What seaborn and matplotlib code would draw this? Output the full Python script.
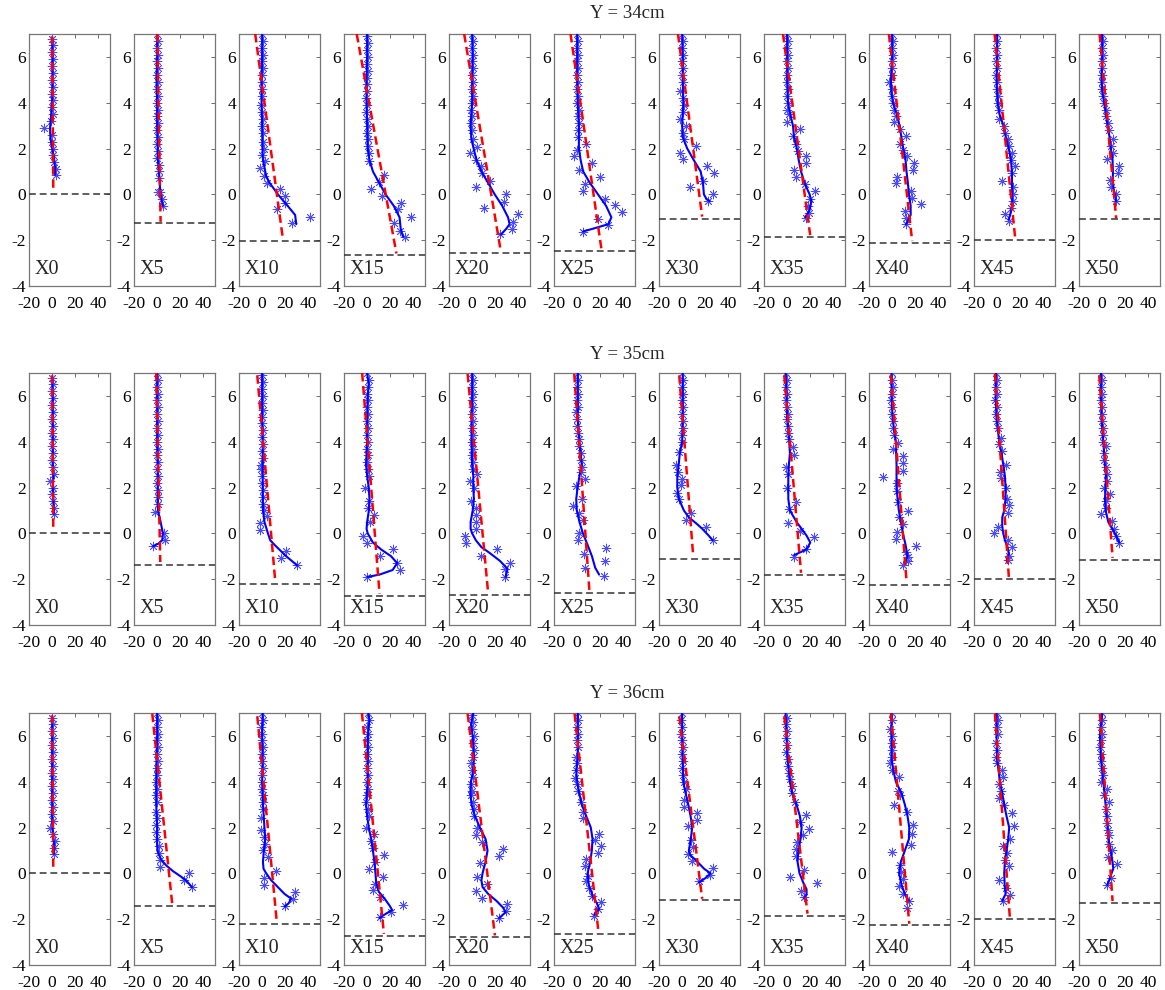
import matplotlib
matplotlib.use("Agg")
import matplotlib.pyplot as plt
import seaborn as sns

sns.set_style("white")
plt.rcParams["font.family"] = ["Liberation Serif", "DejaVu Serif"]

stations = ["X0", "X5", "X10", "X15", "X20", "X25", "X30", "X35", "X40", "X45", "X50"]
row_titles = ["Y = 34cm", "Y = 35cm", "Y = 36cm"]
x_ticks = [-20, 0, 20, 40]
y_ticks = [-4, -2, 0, 2, 4, 6]

# ---------------- Y = 34cm ----------------
bed_34 = [0.03, -1.27, -2.04, -2.66, -2.58, -2.46, -1.06, -1.85, -2.14, -1.99, -1.08]
# red fitted line: (x at top y, y top, x at bottom, y bottom)
fit_34 = [(0, 6.9, 1, 0.1), (0, 7, 3, -1.2), (-6, 7, 18, -1.97), (-9, 7, 25.3, -2.58),
          (-6.9, 7, 24.7, -2.46), (-5.7, 7, 21, -2.4), (-3.6, 7, 17.3, -0.97),
          (-3.6, 7, 19.9, -1.78), (-2.8, 7, 17.3, -2.04), (-2.2, 7, 15.6, -1.92),
          (-2.2, 7, 12.1, -1.05)]
curve_34 = {
    "X0": [(0, 6.8), (0.3, 6), (0.3, 5), (0, 4.2), (-0.8, 3.5), (-1.8, 2.9), (-1.5, 2.5), (0, 2.0), (1.5, 1.6), (2.5, 1.2), (2.5, 0.85)],
    "X5": [(0, 7), (0, 6), (-0.5, 5), (0, 4), (0, 3), (0.5, 2), (0.5, 1.6), (1.5, 1.0), (2.5, 0.3), (3, 0), (4, -0.3), (5, -0.5)],
    "X10": [(0, 7), (0, 6), (-0.5, 5), (-0.5, 4), (0, 3), (0.3, 2), (0.7, 1.5), (3.5, 0.8), (6.5, 0.5), (13.6, 0), (22, -0.5), (28.5, -0.9), (29.5, -1.3)],
    "X15": [(0, 7), (0, 6), (-0.5, 5), (-0.5, 4), (0, 3), (0.5, 2), (2, 1.5), (5, 1), (10.4, 0.5), (15.9, 0), (23, -0.5), (28, -1), (29, -1.5), (31, -1.85)],
    "X20": [(0, 7), (0.5, 6), (0, 5), (0, 4), (-1.4, 3), (-0.6, 2.4), (3.7, 1.5), (8, 1), (13.8, 0.5), (19.5, 0), (26, -0.5), (31, -1), (32.4, -1.3), (29.5, -1.5), (25, -1.75)],
    "X25": [(0, 7), (0, 6), (0, 5), (0.5, 4), (1.5, 3), (1.5, 2.5), (1.5, 2), (3, 1.5), (5.2, 1), (11, 0.5), (18, 0), (25, -0.5), (29.6, -1), (27, -1.3), (17, -1.45), (5.2, -1.62)],
    "X30": [(0, 7), (0.5, 6), (0.5, 5), (1, 4), (0, 3), (0.5, 2.5), (4.4, 2), (10, 1.5), (16, 1), (18, 0.5), (18.8, 0), (21, -0.2), (24, -0.3)],
    "X35": [(0, 7), (0, 6), (0, 5), (0.7, 4), (2.7, 3.5), (5, 3), (6, 2.5), (8.4, 2), (10, 1.5), (12, 1), (15, 0.5), (19.4, 0), (21, -0.3), (19.3, -0.7), (15.6, -1.0)],
    "X40": [(0, 7), (0, 6), (-1, 5), (-0.8, 4.5), (0.7, 4), (4, 3.5), (6.4, 3), (8, 2.5), (9.6, 2), (11.6, 1.5), (12.4, 1), (13.6, 0.5), (14.5, 0), (16, -0.5), (16, -0.9), (14.2, -1.1), (12, -1.3)],
    "X45": [(0, 7), (0, 6), (-0.5, 5), (0.4, 4), (2, 3.5), (5.5, 3), (7.5, 2.5), (10, 2), (12, 1.5), (12.7, 1), (13, 0), (13, -0.5), (11.2, -0.9), (10, -1.1)],
    "X50": [(0, 7), (0, 6), (-0.5, 5), (0, 4.5), (1.8, 4), (4.7, 3), (6.4, 2.5), (7.5, 2), (9, 1.5), (9.3, 1), (9.3, 0.5), (10, 0.2), (11.2, 0), (12, -0.3)],
}
stars_34 = {
    "X0": [(0, 6.8), (0.5, 6.5), (0, 6.2), (1, 5.9), (0, 5.6), (1, 5.3), (0, 5.0), (1, 4.7), (0, 4.4), (0.5, 4.1), (-0.5, 3.8), (0.5, 3.5), (-1, 3.2), (-7, 2.9), (0, 2.6), (-0.5, 2.3), (1, 2.0), (1, 1.7), (2, 1.4), (3.5, 1.1), (3, 0.85)],
    "X5": [(0, 7), (1, 6.7), (0, 6.4), (1, 6.1), (0, 5.8), (1, 5.5), (0, 5.2), (0.5, 4.9), (-0.5, 4.6), (0.5, 4.3), (0, 4.0), (1, 3.7), (0, 3.4), (1, 3.1), (0, 2.8), (0.5, 2.5), (0, 2.2), (1, 1.9), (-0.5, 1.6), (2, 1.3), (1.5, 1.0), (2, 0.7), (0.4, 0.1), (2.5, 0.1), (4, -0.2), (5, -0.5)],
    "X10": [(0, 7), (1, 6.7), (0, 6.4), (1, 6.1), (0, 5.8), (1, 5.5), (0, 5.2), (-0.5, 4.9), (0, 4.6), (-0.5, 4.3), (-1, 3.9), (0, 3.6), (0.5, 3.3), (-0.5, 3.0), (0.5, 2.7), (1, 2.3), (2, 2.0), (0, 1.7), (2.7, 1.45), (-1.6, 1.15), (1.5, 0.8), (4.4, 0.5), (15, 0.23), (19.4, -0.06), (20, -0.36), (12.7, -0.66), (26, -1.27), (41.4, -0.97)],
    "X15": [(0, 6.9), (1, 6.6), (0, 6.3), (1, 6.0), (0, 5.7), (1, 5.4), (0, 5.1), (-0.5, 4.8), (0, 4.5), (-1, 4.2), (0, 3.9), (-1, 3.6), (0, 3.3), (0.5, 3.0), (-0.5, 2.7), (0.5, 2.4), (1, 2.1), (1.5, 1.8), (2, 1.45), (3, 0.25), (14.7, 0.84), (13, -0.05), (10.4, 0.52), (29.6, -0.36), (27, -0.66), (38.3, -1.0), (23, -1.27), (28, -1.58), (32.8, -1.88)],
    "X20": [(0, 7), (1, 6.7), (0, 6.4), (1, 6.1), (0, 5.8), (1, 5.5), (0, 5.2), (1, 4.9), (0, 4.6), (1, 4.3), (0, 4.0), (-1, 3.7), (0, 3.4), (-1, 3.1), (-0.5, 2.8), (1, 2.4), (4.6, 2.08), (-2, 1.8), (3, 1.5), (7.5, 1.25), (8.9, 0.92), (15.2, 0.6), (3.7, 0.3), (10, -0.6), (29.5, 0), (27.3, -0.32), (39.6, -0.87), (35, -1.2), (34.7, -1.5), (24.4, -1.75)],
    "X25": [(0, 7), (0.5, 6.7), (0, 6.4), (1, 6.1), (0, 5.8), (1, 5.5), (0, 5.2), (1, 4.9), (0, 4.6), (1, 4.3), (0, 4.0), (1.5, 3.7), (0.5, 3.4), (2, 3.1), (0.5, 2.8), (1, 2.5), (7.5, 2.22), (0, 1.95), (-2.5, 1.67), (13, 1.35), (2, 1.05), (19.9, 0.77), (7, 0.45), (4.7, 0.13), (24, -0.2), (32.8, -0.45), (38.5, -0.77), (18, -1.08), (26.8, -1.34), (5, -1.64)],
    "X30": [(0, 7), (1, 6.7), (0, 6.4), (1, 6.1), (0, 5.8), (0.5, 5.5), (0, 5.2), (1, 4.9), (-2, 4.5), (1, 4.2), (2, 3.9), (1, 3.6), (-2.2, 3.3), (3, 3.0), (1, 2.7), (1.5, 2.4), (12, 2.1), (-2.2, 1.82), (0.7, 1.53), (21.6, 1.25), (27.3, 0.92), (17.9, 0.6), (6.7, 0.3), (26.8, 0), (22.5, -0.3)],
    "X35": [(0, 7), (1, 6.7), (0, 6.4), (1, 6.1), (-0.5, 5.8), (0.5, 5.5), (-0.5, 5.2), (0, 4.9), (0.5, 4.6), (0, 4.3), (1, 4.0), (0, 3.7), (2, 3.5), (0, 3.15), (11, 2.86), (5, 2.55), (7.5, 2.2), (9, 1.9), (16.2, 1.66), (16.2, 1.35), (6.2, 1.05), (7.5, 0.76), (15, 0.45), (24, 0.16), (20, -0.2), (17.6, -0.5), (19, -0.8), (16.2, -1.05)],
    "X40": [(0, 7), (1, 6.7), (0, 6.4), (1, 6.1), (0, 5.8), (0, 5.5), (-0.5, 5.2), (-2.5, 4.9), (0, 4.6), (-0.5, 4.3), (1, 4.0), (2, 3.7), (3, 3.4), (2, 3.15), (7, 2.85), (11.6, 2.55), (7, 2.2), (9, 1.95), (13, 1.67), (18.7, 1.35), (18, 1.06), (3.8, 0.77), (3, 0.48), (16, 0.16), (17, -0.15), (25.3, -0.42), (10.7, -0.74), (12.4, -1.03), (11.6, -1.3)],
    "X45": [(0, 7), (0, 6.7), (-1, 6.4), (0, 6.1), (-1, 5.8), (0, 5.5), (-1, 5.2), (0, 4.9), (0, 4.6), (1, 4.3), (1, 4.0), (2, 3.7), (2, 3.3), (6, 3.0), (7, 2.7), (9, 2.4), (10, 2.1), (13, 1.8), (12, 1.5), (15.4, 1.25), (13, 0.95), (3.8, 0.6), (14, 0.3), (14, 0), (14, -0.3), (12, -0.6), (6.7, -0.87), (10.4, -1.15)],
    "X50": [(0, 7), (1, 6.7), (0, 6.4), (1, 6.1), (0, 5.8), (-0.5, 5.5), (0, 5.2), (-0.5, 4.9), (0, 4.6), (1, 4.3), (1.5, 4.0), (3, 3.7), (3, 3.4), (5, 3.1), (6, 2.8), (9, 2.42), (8, 2.1), (9, 1.8), (4.1, 1.56), (14.2, 1.25), (13.5, 0.93), (7, 0.61), (8, 0.3), (12, 0), (12, -0.3)],
}

# ---------------- Y = 35cm ----------------
bed_35 = [0.02, -1.36, -2.2, -2.73, -2.71, -2.62, -1.1, -1.83, -2.24, -1.98, -1.17]
fit_35 = [(0, 6.9, 1, 0.1), (-0.8, 7, 2.7, -1.25), (-4.2, 6.9, 11.3, -2.08), (-4.3, 7, 10.7, -2.64),
          (-3.9, 6.96, 13.9, -2.64), (-2.5, 6.96, 10.7, -2.59), (-2.5, 6.9, 9.6, -1.02),
          (-2.5, 6.9, 12, -1.72), (-1, 6.9, 12.5, -2.15), (-1.9, 6.96, 10.1, -1.9),
          (-2.5, 6.9, 9, -1.07)]
curve_35 = {
    "X0": [(0, 6.8), (0.5, 6), (0.5, 5), (0.5, 4), (0.5, 3), (1, 2.5), (0.5, 2), (1, 1.5), (1.5, 0.85)],
    "X5": [(0, 7), (0, 6), (0, 5), (0, 4), (0.5, 3), (0.5, 2), (0.5, 1.3), (0.7, 1), (3, 0.5), (5, 0), (4.4, -0.3), (1, -0.45), (-3.4, -0.56)],
    "X10": [(0, 7), (0, 6), (0, 5), (0.5, 4), (0.5, 3), (0.5, 2), (0.7, 1), (2, 0.5), (5, 0), (7, -0.3), (10.7, -0.5), (20.8, -1), (30.3, -1.4)],
    "X15": [(0, 7), (1.4, 6.5), (0.5, 6), (0, 5), (0, 4), (-0.9, 3), (0, 2.5), (1.4, 2), (2, 1.5), (1.5, 1), (0, 0.5), (-0.5, 0.2), (0.5, 0), (5, -0.4), (12, -0.7), (20.7, -1), (26, -1.3), (22, -1.6), (10.7, -1.8), (0.5, -1.9)],
    "X20": [(0, 7), (0, 6), (-0.5, 5), (-0.5, 4), (0, 3), (1, 2.5), (1, 2), (1.5, 1.5), (0.5, 1), (-1.3, 0.5), (-1.3, 0.2), (0, 0), (3.2, -0.3), (8, -0.6), (15, -0.85), (24, -1.2), (30.6, -1.55), (29, -1.9)],
    "X25": [(0.5, 7), (0.5, 6), (0.5, 5), (2, 4), (4, 3), (2, 2.5), (0.4, 2), (-0.8, 1.5), (-0.3, 1), (2, 0.5), (5, 0), (9, -0.5), (12.8, -1), (15.6, -1.5), (19, -1.8)],
    "X30": [(0.5, 7), (0.5, 6), (0.5, 5), (0, 4), (-2, 3.5), (-3, 3), (-4.2, 2.5), (-4.2, 2), (-2.8, 1.5), (1.5, 1), (5.8, 0.7), (13, 0.4), (17.4, 0.2), (23, -0.1), (26.3, -0.3)],
    "X35": [(-1.3, 7), (-0.5, 6), (0, 5), (1, 4.5), (1.8, 4), (2.4, 3.5), (1.5, 3), (1, 2.5), (1, 2), (1, 1.5), (2.4, 1), (8.1, 0.5), (12.5, 0.2), (16.8, -0.1), (20, -0.4), (16.8, -0.7), (6, -0.95)],
    "X40": [(-0.5, 7), (-0.5, 6), (0.4, 5), (1.8, 4.5), (3.2, 4), (3.8, 3), (3.8, 2), (4.7, 1.5), (5.8, 1), (7.6, 0.5), (9.3, 0), (11.6, -0.5), (13.3, -1), (11, -1.3)],
    "X45": [(-1, 7), (-1.3, 6), (-0.5, 5), (1.8, 4), (3.8, 3.5), (5.3, 3), (6.7, 2.5), (7.3, 2), (7.3, 1.5), (6.1, 1), (4.4, 0.7), (4.4, 0.3), (5.3, 0), (6.7, -0.3), (9, -0.6), (10.1, -0.9), (8.1, -1.2)],
    "X50": [(-1, 7), (-1, 6), (-0.5, 5), (1, 4), (2.4, 3), (3.3, 2.5), (3, 2), (2.4, 1.5), (3, 1), (5.3, 0.5), (8.7, 0.2), (11, 0), (14.8, -0.4)],
}
stars_35 = {
    "X0": [(0, 6.8), (1, 6.5), (0, 6.2), (1, 5.9), (0, 5.6), (1, 5.3), (0, 5.0), (1, 4.7), (0, 4.4), (1, 4.1), (0, 3.8), (1, 3.5), (0, 3.2), (1, 2.9), (2, 2.58), (-2.2, 2.27), (1, 2.0), (0, 1.7), (1, 1.4), (2, 1.1), (2, 0.85)],
    "X5": [(0, 7), (1, 6.7), (0, 6.4), (1, 6.1), (0, 5.8), (1, 5.5), (0, 5.2), (0.5, 4.9), (0, 4.6), (0.5, 4.3), (0, 4.0), (1, 3.7), (0, 3.4), (1, 3.1), (0, 2.8), (1, 2.5), (0, 2.2), (1, 1.9), (0.5, 1.6), (1, 1.3), (-1.6, 0.95), (6, 0), (7, -0.27), (-3.4, -0.56)],
    "X10": [(0, 6.9), (0.5, 6.6), (0, 6.3), (0.5, 6.0), (0, 5.7), (0.5, 5.4), (-0.5, 5.1), (0, 4.8), (0.5, 4.5), (0, 4.2), (0.5, 3.9), (0, 3.6), (0.5, 3.3), (-1, 3.0), (-1, 2.8), (0, 2.5), (-0.5, 2.2), (1, 1.9), (0.5, 1.6), (1, 1.3), (1.5, 1.0), (3.8, 0.75), (-1.9, 0.44), (-1.9, 0.14), (20.2, -0.76), (16.4, -1.06), (30.3, -1.4)],
    "X15": [(0, 7), (1.5, 6.7), (1, 6.4), (0, 6.1), (1, 5.8), (0, 5.5), (1, 5.2), (0, 4.9), (1, 4.6), (0, 4.3), (0.5, 4.0), (0, 3.7), (0.5, 3.4), (-0.5, 3.1), (0.5, 2.8), (2, 2.5), (-2, 1.98), (2, 1.4), (1, 1.1), (5.8, 0.8), (2.9, 0.5), (-3.7, -0.12), (-0.3, -0.42), (22, -0.7), (10.7, -1.0), (26, -1.3), (28, -1.6), (0, -1.9)],
    "X20": [(0, 7), (1, 6.7), (0, 6.4), (1, 6.1), (0, 5.8), (1, 5.5), (0, 5.2), (0.5, 4.9), (0, 4.6), (1, 4.3), (0, 4.0), (0.5, 3.7), (0, 3.4), (0.5, 3.1), (1, 2.8), (3.8, 2.57), (-1.9, 2.28), (2, 2.0), (-1.3, 1.4), (3, 1.1), (3, 0.8), (3.5, 0.5), (3, 0.2), (-5.9, -0.1), (-5, -0.4), (21.7, -0.7), (7.3, -1.0), (32.6, -1.31), (28.2, -1.57), (28.8, -1.9)],
    "X25": [(0.5, 7), (1, 6.7), (0, 6.4), (1, 6.1), (0, 5.8), (1, 5.5), (-1, 5.3), (0, 5.0), (-0.5, 4.7), (1, 4.4), (1.5, 4.1), (2, 3.8), (3, 3.5), (3.5, 3.2), (4, 2.9), (3, 2.7), (7, 2.36), (-1, 2.06), (4, 1.5), (-3.7, 1.19), (2, 0.9), (5, 0.6), (2, 0), (1, -0.3), (5.5, -0.92), (6.4, -1.52), (24.8, -0.63), (24.3, -1.2), (22.8, -1.85)],
    "X30": [(0, 7), (1, 6.7), (0, 6.4), (1, 6.1), (0, 5.8), (1, 5.5), (0, 5.2), (1, 4.9), (0.5, 4.6), (-0.5, 4.3), (0, 4.0), (-2.5, 3.56), (-5.7, 3.0), (-4, 2.7), (-0.5, 2.38), (-1, 2.1), (-4.2, 1.78), (-3, 1.5), (7.8, 0.9), (3.5, 0.58), (20.8, 0.29), (26.9, -0.3)],
    "X35": [(-1, 7), (0, 6.7), (-1, 6.4), (0, 6.1), (-1, 5.8), (0, 5.5), (0.5, 5.2), (-0.5, 5.0), (1, 4.7), (1, 4.4), (2, 4.1), (4.7, 3.78), (5.8, 3.44), (-1, 2.9), (1, 2.6), (0, 2.0), (8, 1.36), (1.5, 1.07), (0.4, 0.47), (11, 0.1), (22.9, -0.15), (16, -0.7), (5.8, -1.05)],
    "X40": [(0, 7), (-0.5, 6.7), (0.5, 6.4), (-0.5, 6.1), (-1, 5.8), (0, 5.5), (-0.5, 5.2), (1, 4.9), (0.5, 4.6), (2, 4.3), (5, 3.94), (0.4, 3.68), (9.6, 3.37), (9.6, 3.07), (9.3, 2.74), (-7.7, 2.45), (4, 2.2), (4, 1.85), (5, 1.35), (13.9, 0.97), (6, 0.7), (9, 0.4), (4.4, 0.07), (3.2, -0.24), (20.2, -0.54), (12, -0.8), (14, -1.05), (14, -1.2), (9.3, -1.4)],
    "X45": [(-1, 7), (0, 6.7), (-1, 6.4), (-0.5, 6.1), (-1.5, 5.8), (-0.5, 5.5), (-1, 5.2), (0, 4.9), (0.5, 4.6), (3.5, 4.16), (1.5, 3.9), (4, 3.6), (7.3, 3.0), (2.4, 2.68), (3, 2.4), (8, 2.0), (8.1, 1.51), (10.1, 1.23), (9, 0.9), (1, 0.28), (-2.5, 0), (9.6, -0.3), (12.7, -0.6), (10, -1.0), (9.5, -1.15)],
    "X50": [(-1, 7), (0, 6.7), (-1, 6.4), (0, 6.1), (-1, 5.8), (0, 5.5), (-0.5, 5.2), (0, 4.9), (0.5, 4.6), (0.5, 4.3), (1, 4.0), (3, 3.8), (1.5, 3.5), (2, 3.2), (3, 2.9), (4, 2.6), (4, 2.3), (2, 2.0), (6.7, 1.71), (3, 1.4), (3, 1.1), (-1, 0.85), (8.1, 0.53), (10.4, 0.21), (12, -0.1), (14.8, -0.41)],
}

# ---------------- Y = 36cm ----------------
bed_36 = [0.01, -1.41, -2.22, -2.72, -2.78, -2.66, -1.18, -1.85, -2.27, -2.01, -1.3]
fit_36 = [(0, 6.9, 1, 0.1), (-4.2, 6.97, 13, -1.32), (-4.2, 6.86, 12.7, -2.15), (-4.5, 7, 14.5, -2.64),
          (-3.9, 6.97, 19.7, -2.71), (-2.2, 6.97, 18.5, -2.6), (-2.5, 6.86, 17.3, -1.11),
          (-2.5, 6.86, 17.6, -1.76), (-1, 6.97, 14.8, -2.2), (-1.9, 6.97, 11, -1.94),
          (-1.9, 6.97, 9, -1.21)]
curve_36 = {
    "X0": [(0, 6.8), (0, 6), (0, 5), (0, 4), (0, 3), (0, 2.2), (1, 1.6), (2, 1.1), (1.5, 0.85)],
    "X5": [(0, 7), (0, 6), (-0.5, 5), (-0.8, 4), (-0.8, 3), (0, 2), (0, 1.2), (0.8, 0.9), (3.5, 0.6), (7.8, 0.35), (13.6, 0.1), (19.4, -0.1), (25, -0.3), (30, -0.6)],
    "X10": [(0.5, 7), (0, 6), (0.5, 5), (0, 4), (0.7, 3), (2, 2), (2.7, 1.5), (1.5, 1), (0.7, 0.5), (1.2, 0.2), (3.5, 0), (7.8, -0.3), (13.6, -0.6), (19.4, -0.9), (25, -1.1), (23, -1.3), (19.4, -1.45)],
    "X15": [(1, 7), (2, 6.7), (0.6, 6), (0.5, 5), (0.5, 4), (-0.9, 3), (0, 2.5), (1.4, 2), (3.5, 1.5), (5, 1), (6.3, 0.5), (7.2, 0), (7.8, -0.4), (10, -0.8), (15, -1.1), (19.3, -1.4), (21.6, -1.6), (15, -1.8), (10.7, -1.95)],
    "X20": [(1, 7), (-1, 6.5), (0.5, 6), (1.5, 5), (1, 4.5), (-1, 4), (-1.5, 3.5), (-0.5, 3), (2.4, 2.5), (6.7, 2), (11.6, 1.5), (13.3, 1), (11.6, 0.5), (10, 0.2), (9, 0), (8, -0.3), (9, -0.6), (13.9, -0.9), (21, -1.2), (26.8, -1.5), (28.8, -1.7), (23.4, -1.95)],
    "X25": [(0.5, 7), (0.5, 6), (0.5, 5), (-0.8, 4.5), (0, 4), (1.8, 3.5), (4, 3), (7.8, 2.5), (11.8, 2), (13.3, 1.5), (12.7, 1), (11.3, 0.5), (9, 0), (10, -0.5), (13.6, -1), (17, -1.3), (19, -1.55), (14.8, -1.8)],
    "X30": [(0, 7), (0, 6), (0.4, 5), (1, 4), (3, 3.5), (5.3, 3), (7.3, 2.5), (8.7, 2), (7.5, 1.5), (5.8, 1), (7, 0.8), (13.3, 0.5), (19, 0.2), (24.6, 0), (20.3, -0.2), (14.5, -0.4)],
    "X35": [(-1.3, 7), (-0.5, 6), (0.4, 5), (2.4, 4), (4.4, 3.5), (8.1, 3), (11, 2.5), (12.5, 2), (11.6, 1.5), (9.6, 1), (9, 0.5), (10.7, 0), (13.9, -0.4), (16.8, -0.7), (16.8, -0.9), (14.8, -1.1)],
    "X40": [(-0.5, 7), (-0.5, 6), (-0.5, 5), (1, 4.5), (3.2, 4), (8.1, 3.5), (11, 3), (13.3, 2.5), (14.8, 2), (14.5, 1.5), (11, 1), (7.5, 0.5), (6, 0), (8.1, -0.5), (11, -0.9), (14.5, -1.2)],
    "X45": [(-0.5, 7), (-0.5, 6), (0, 5), (2.4, 4), (4.4, 3.5), (6.1, 3), (8.1, 2.5), (10.4, 2), (9.6, 1.5), (8.1, 1), (6.7, 0.5), (6.1, 0), (6.5, -0.5), (7.3, -0.9), (4.4, -1.2)],
    "X50": [(0, 7), (-1.9, 6), (-1, 5), (1, 4), (3, 3), (4.7, 2), (5.3, 1.5), (7.3, 1), (9, 0.5), (9.6, 0.2), (8.1, 0), (6.1, -0.3), (4.4, -0.5)],
}
stars_36 = {
    "X0": [(0, 6.8), (1, 6.5), (0, 6.2), (1, 5.9), (0, 5.6), (1, 5.3), (0, 5.0), (1, 4.7), (0, 4.4), (1, 4.1), (0, 3.8), (1, 3.5), (0, 3.2), (1, 2.9), (0, 2.6), (0.5, 2.3), (-2.2, 2.0), (1, 1.7), (2.7, 1.41), (2, 1.1), (1.2, 0.84)],
    "X5": [(0, 7), (1, 6.7), (0, 6.4), (1, 6.1), (0, 5.8), (0.5, 5.5), (-0.5, 5.2), (0.5, 4.9), (-0.5, 4.6), (0, 4.3), (-1, 4.0), (0, 3.7), (-1, 3.4), (0, 3.1), (-1, 2.7), (0, 2.4), (-1, 2.1), (-1, 1.8), (0, 1.5), (2, 1.19), (2, 0.9), (2.7, 0.6), (2.7, 0.29), (27.3, 0), (23, -0.3), (30, -0.61)],
    "X10": [(0, 7), (0.5, 6.7), (-1, 6.4), (0, 6.1), (-0.5, 5.8), (0.5, 5.5), (0, 5.2), (-0.5, 4.9), (0.5, 4.6), (0, 4.3), (-0.5, 4.0), (0, 3.7), (0.5, 3.4), (0.5, 3.1), (1, 2.8), (-1, 2.4), (-1, 1.9), (2, 1.6), (2.5, 1.3), (1, 1.0), (4.7, 0.7), (11.6, 0.1), (2, -0.2), (1.8, -0.51), (28, -0.8), (26.5, -1.1), (20, -1.44)],
    "X15": [(1, 7), (2, 6.7), (0, 6.4), (1, 6.1), (0, 5.8), (1, 5.5), (0, 5.2), (1, 4.9), (0, 4.6), (1, 4.3), (0, 4.0), (1, 3.7), (0, 3.4), (-1, 3.1), (0.5, 2.8), (2, 2.5), (-1.4, 2.0), (6, 1.7), (3.5, 1.41), (5, 1.1), (14.4, 0.82), (7, 0.5), (2, 0.17), (13.5, -0.17), (6.5, -0.45), (5, -0.73), (10.7, -1.05), (30.8, -1.36), (20.7, -1.67), (10.7, -1.92)],
    "X20": [(0, 6.9), (1, 6.6), (0, 6.3), (1.5, 6.0), (0.5, 5.7), (1.5, 5.4), (1, 5.1), (-1, 4.8), (0, 4.5), (1, 4.2), (-1, 3.9), (0, 3.6), (-1, 3.4), (0.5, 3.1), (2, 2.8), (2, 2.5), (4.4, 2.0), (3.3, 1.66), (8.1, 1.35), (26.8, 1.05), (23, 0.74), (6.7, 0.45), (4.4, -0.16), (12.5, -0.45), (3.3, -0.76), (8.7, -1.06), (29.7, -1.35), (29.2, -1.64), (23.4, -1.95)],
    "X25": [(0.5, 7), (1, 6.7), (0, 6.4), (1, 6.1), (0, 5.8), (1, 5.5), (-1, 5.1), (0, 4.8), (-1, 4.5), (-2, 4.15), (0, 3.9), (1, 3.6), (3, 3.1), (4.7, 2.7), (5, 2.4), (18.5, 1.73), (15, 1.45), (20.9, 1.19), (17.7, 0.87), (7.8, 0.61), (7, 0.3), (9, -0.1), (7.8, -0.35), (10.4, -0.66), (12.7, -1.0), (20.5, -1.25), (18, -1.55), (14.8, -1.85)],
    "X30": [(0, 7), (-1, 6.7), (0, 6.4), (-1, 6.1), (0, 5.8), (1, 5.5), (0, 5.2), (1, 4.9), (0, 4.6), (1, 4.3), (1.5, 4.0), (3, 3.7), (2, 3.2), (2, 2.9), (13.2, 2.65), (13.2, 2.35), (5.3, 2.05), (8, 1.45), (9, 1.15), (5.3, 0.86), (8.1, 0.55), (26.9, 0.25), (24, -0.05), (14.5, -0.35)],
    "X35": [(0, 6.8), (-1, 6.5), (0, 6.2), (-1, 5.9), (0, 5.6), (-1, 5.3), (0.5, 5.0), (1, 4.7), (2, 4.4), (2.5, 4.1), (4, 3.8), (4, 3.5), (7, 3.1), (15.9, 2.53), (10.7, 2.23), (19, 1.95), (13.9, 1.67), (8.7, 1.37), (7.5, 1.05), (7.8, 0.76), (14.5, 0.15), (2.4, -0.15), (25.7, -0.41), (11.9, -0.76), (14.8, -1.05)],
    "X40": [(0, 7), (-0.5, 6.7), (-1.5, 6.3), (0, 6.0), (-0.5, 5.7), (0, 5.4), (-0.5, 5.1), (-1.5, 4.8), (0, 4.5), (5.8, 4.2), (5, 3.6), (7, 3.4), (1.8, 3.0), (12.5, 2.7), (17.7, 2.1), (16.8, 1.74), (16, 1.25), (-0.5, 0.93), (6.7, 0.35), (8, 0.05), (9, -0.26), (6.1, -0.55), (9.6, -0.89), (14.5, -1.2), (12.5, -1.5)],
    "X45": [(-0.5, 7), (0.5, 6.7), (-0.5, 6.4), (0.5, 6.1), (-1, 5.7), (0, 5.4), (-1, 5.1), (0, 4.8), (4.4, 4.5), (4.7, 4.2), (2, 3.9), (3, 3.6), (2, 3.3), (6, 3.0), (13, 2.65), (14.5, 2.05), (11, 1.5), (5.3, 1.19), (8.1, 0.9), (6.5, 0.6), (10.1, 0.3), (1.5, -0.3), (7.5, -0.65), (11, -0.96), (4.7, -1.21)],
    "X50": [(0, 7), (0, 6.7), (-1, 6.4), (0, 6.1), (-1, 5.8), (-2, 5.5), (-1, 5.2), (-1, 4.9), (0, 4.6), (0.5, 4.3), (-1, 4.0), (4.4, 3.7), (2, 3.4), (6, 3.1), (3, 2.8), (4, 2.5), (4.5, 2.2), (5, 1.9), (6.1, 1.67), (6, 1.3), (8.1, 1.03), (5.3, 0.73), (12.5, 0.41), (8, -0.2), (4.4, -0.51)],
}

rows = [(bed_34, fit_34, curve_34, stars_34),
        (bed_35, fit_35, curve_35, stars_35),
        (bed_36, fit_36, curve_36, stars_36)]

# ---------------- layout ----------------
W, H = 1165, 990
fig = plt.figure(figsize=(W / 100, H / 100), dpi=100)
panel_left0, panel_step, panel_w = 29, 105, 81
row_tops = [34, 373, 713]
panel_h = 252
title_y = [13, 354, 694]
title_x = 627

BLUE = "#0000ff"
STAR = "#4a4aff"
RED = "#ff0000"

for r, (bed, fit, curves, stars) in enumerate(rows):
    fig.text(title_x / W, 1 - title_y[r] / H, row_titles[r], ha="center", va="center",
             fontsize=13.5)
    for i, st in enumerate(stations):
        left = (panel_left0 + panel_step * i) / W
        bottom = 1 - (row_tops[r] + panel_h) / H
        ax = fig.add_axes([left, bottom, panel_w / W, panel_h / H])

        sx = [p[0] for p in stars[st]]
        sy = [p[1] for p in stars[st]]
        sns.scatterplot(x=sx, y=sy, marker=(8, 2, 0), s=40, color=STAR,
                        linewidth=0.6, ax=ax, zorder=2, legend=False)

        cx = [p[0] for p in curves[st]]
        cy = [p[1] for p in curves[st]]
        sns.lineplot(x=cx, y=cy, sort=False, estimator=None, color=BLUE,
                     linewidth=1.5, ax=ax, zorder=3, legend=False)

        xt, yt, xb, yb = fit[i]
        sns.lineplot(x=[xt, xb], y=[yt, yb], sort=False, estimator=None, color=RED,
                     linewidth=1.8, linestyle=(0, (3.4, 1.8)), ax=ax, zorder=4,
                     legend=False)

        ax.axhline(bed[i], color="#333333", linewidth=1.1, linestyle=(0, (4.5, 2.5)),
                   zorder=5)

        ax.set_xlim(-20, 50)
        ax.set_ylim(-4, 7)
        ax.set_xticks(x_ticks)
        ax.set_yticks(y_ticks)
        ax.set_xticklabels([str(t) for t in x_ticks])
        ax.set_yticklabels([str(t) for t in y_ticks])
        ax.tick_params(direction="in", length=3, width=0.6, color="#555555",
                       top=True, right=True, labelsize=12.5, pad=2,
                       labelcolor="black")
        ax.tick_params(axis="x", pad=7)
        for sp in ax.spines.values():
            sp.set_visible(True)
            sp.set_color("#777777")
            sp.set_linewidth(0.9)
        ax.set_xlabel("")
        ax.set_ylabel("")
        ax.text(-15.5, -3.3, st, ha="left", va="center", fontsize=14.5)

fig.savefig("out.png", dpi=100)
